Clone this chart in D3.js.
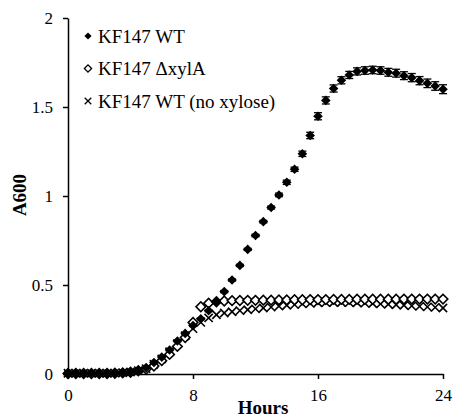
<!DOCTYPE html>
<html>
<head>
<meta charset="utf-8">
<script src="https://cdn.jsdelivr.net/npm/d3@7"></script>
<style>
  body { margin: 0; background: #fff; }
  text { font-family: "Liberation Serif", "Times New Roman", serif; }
</style>
</head>
<body>
<script>
'use strict';

// sampling times (hours), every 30 min
const hours = d3.range(0, 24.01, 0.5);

// A600 readings per strain
const wtValues = [0.005, 0.005, 0.005, 0.005, 0.005, 0.005, 0.006, 0.008, 0.012, 0.02,
  0.035, 0.065, 0.095, 0.135, 0.185, 0.228, 0.272, 0.31, 0.355, 0.405,
  0.463, 0.528, 0.61, 0.70, 0.778, 0.856, 0.935, 1.006, 1.077, 1.15,
  1.237, 1.34, 1.448, 1.537, 1.604, 1.65, 1.68, 1.70, 1.705, 1.708,
  1.705, 1.695, 1.69, 1.676, 1.665, 1.648, 1.633, 1.618, 1.60];
const wtErrors = [0.003, 0.003, 0.003, 0.003, 0.003, 0.003, 0.003, 0.003, 0.003, 0.003,
  0.003, 0.003, 0.004, 0.004, 0.004, 0.004, 0.005, 0.005, 0.005, 0.005,
  0.006, 0.006, 0.006, 0.006, 0.007, 0.007, 0.008, 0.01, 0.012, 0.012,
  0.015, 0.018, 0.02, 0.02, 0.02, 0.02, 0.02, 0.02, 0.021, 0.021,
  0.021, 0.022, 0.022, 0.022, 0.023, 0.023, 0.024, 0.024, 0.025];
const xylAValues = [0.003, 0.003, 0.003, 0.003, 0.003, 0.003, 0.004, 0.006, 0.01, 0.018,
  0.028, 0.045, 0.075, 0.11, 0.155, 0.205, 0.29, 0.378, 0.398, 0.406,
  0.41, 0.412, 0.413, 0.414, 0.414, 0.415, 0.415, 0.416, 0.416, 0.417,
  0.417, 0.418, 0.418, 0.418, 0.419, 0.419, 0.419, 0.42, 0.42, 0.42,
  0.42, 0.42, 0.42, 0.421, 0.421, 0.421, 0.421, 0.421, 0.421];
const noXyloseValues = [0.004, 0.004, 0.004, 0.004, 0.004, 0.004, 0.005, 0.007, 0.011, 0.019,
  0.03, 0.055, 0.085, 0.125, 0.17, 0.215, 0.255, 0.29, 0.315, 0.333,
  0.343, 0.35, 0.356, 0.361, 0.366, 0.371, 0.376, 0.381, 0.386, 0.39,
  0.394, 0.397, 0.4, 0.401, 0.402, 0.402, 0.401, 0.4, 0.398, 0.396,
  0.394, 0.392, 0.389, 0.386, 0.383, 0.38, 0.377, 0.374, 0.371];

const legendLabels = ["KF147 WT", "KF147 \u0394xylA", "KF147 WT (no xylose)"];
const xTicks = [0, 8, 16, 24];
const yTicks = [0, 0.5, 1, 1.5, 2];

const svg = d3.select('body')
  .append('svg')
  .attr('width', 453)
  .attr('height', 420);

// scales
const xScale = d3.scaleLinear().domain([0, 24]).range([68, 443]);
const yScale = d3.scaleLinear().domain([0, 2]).range([374, 18]);

// axes
const xAxis = svg.append('g')
  .attr('transform', 'translate(0,374)')
  .call(d3.axisBottom(xScale).tickValues(xTicks).tickSize(5).tickSizeOuter(0).tickPadding(10));
const yAxis = svg.append('g')
  .attr('transform', 'translate(68,0)')
  .call(d3.axisLeft(yScale).tickValues(yTicks).tickSize(5).tickSizeOuter(0)
    .tickPadding(10).tickFormat(d3.format('')));

[xAxis, yAxis].forEach((ax) => {
  ax.select('.domain').attr('stroke', '#000').attr('stroke-width', 1.5);
  ax.selectAll('.tick line').attr('stroke', '#000').attr('stroke-width', 1.5);
  ax.selectAll('.tick text')
    .attr('fill', '#000')
    .style('font-family', '"Liberation Serif", serif')
    .style('font-size', '17px');
});

// axis titles
svg.append('text')
  .attr('x', 263)
  .attr('y', 414)
  .attr('text-anchor', 'middle')
  .style('font-size', '19px')
  .style('font-weight', 'bold')
  .text('Hours');

svg.append('text')
  .attr('transform', 'translate(26,195)rotate(-90)')
  .attr('text-anchor', 'middle')
  .style('font-size', '19px')
  .style('font-weight', 'bold')
  .text('A600');

// marker shapes
const diamondPath = d3.symbol().type(d3.symbolSquare).size(46)();
const xPath = d3.symbol().type(d3.symbolX).size(46)();

const plot = svg.append('g');

// no xylose: crosses
plot.selectAll('.nox')
  .data(hours.map((h, i) => ({h: h, v: noXyloseValues[i]})))
  .enter()
  .append('path')
  .attr('class', 'nox')
  .attr('d', xPath)
  .attr('transform', (d) => 'translate(' + xScale(d.h) + ',' + yScale(d.v) + ')')
  .attr('fill', 'none')
  .attr('stroke', '#000')
  .attr('stroke-width', 1.6);

// delta xylA: open diamonds
plot.selectAll('.xyla')
  .data(hours.map((h, i) => ({h: h, v: xylAValues[i]})))
  .enter()
  .append('path')
  .attr('class', 'xyla')
  .attr('d', diamondPath)
  .attr('transform', (d) => 'translate(' + xScale(d.h) + ',' + yScale(d.v) + ')rotate(45)')
  .attr('fill', '#fff')
  .attr('stroke', '#000')
  .attr('stroke-width', 1.6);

// WT: error bars then filled diamonds
const wtData = hours.map((h, i) => ({h: h, v: wtValues[i], e: wtErrors[i]}));
const bars = plot.selectAll('.err')
  .data(wtData)
  .enter()
  .append('g')
  .attr('class', 'err')
  .attr('stroke', '#000')
  .attr('stroke-width', 1.3);
bars.append('line')
  .attr('x1', (d) => xScale(d.h)).attr('x2', (d) => xScale(d.h))
  .attr('y1', (d) => yScale(d.v - d.e)).attr('y2', (d) => yScale(d.v + d.e));
bars.append('line')
  .attr('x1', (d) => xScale(d.h) - 4).attr('x2', (d) => xScale(d.h) + 4)
  .attr('y1', (d) => yScale(d.v + d.e)).attr('y2', (d) => yScale(d.v + d.e));
bars.append('line')
  .attr('x1', (d) => xScale(d.h) - 4).attr('x2', (d) => xScale(d.h) + 4)
  .attr('y1', (d) => yScale(d.v - d.e)).attr('y2', (d) => yScale(d.v - d.e));

plot.selectAll('.wt')
  .data(wtData)
  .enter()
  .append('path')
  .attr('class', 'wt')
  .attr('d', diamondPath)
  .attr('transform', (d) => 'translate(' + xScale(d.h) + ',' + yScale(d.v) + ')rotate(45)')
  .attr('fill', '#000');

// legend
const legend = svg.append('g');
const legendRows = legend.selectAll('g')
  .data(legendLabels)
  .enter()
  .append('g')
  .attr('transform', (d, i) => 'translate(88,' + (36 + i * 32.5) + ')');

legendRows.append('path')
  .attr('d', (d, i) => i == 2 ? d3.symbol().type(d3.symbolX).size(30)() : d3.symbol().type(d3.symbolSquare).size(26)())
  .attr('transform', (d, i) => i == 2 ? '' : 'rotate(45)')
  .attr('fill', (d, i) => i == 0 ? '#000' : (i == 1 ? '#fff' : 'none'))
  .attr('stroke', (d, i) => i == 0 ? 'none' : '#000')
  .attr('stroke-width', 1.3);

legendRows.append('text')
  .attr('x', 10)
  .attr('y', 6.5)
  .style('font-size', '19px')
  .text((d) => d);
</script>
</body>
</html>
